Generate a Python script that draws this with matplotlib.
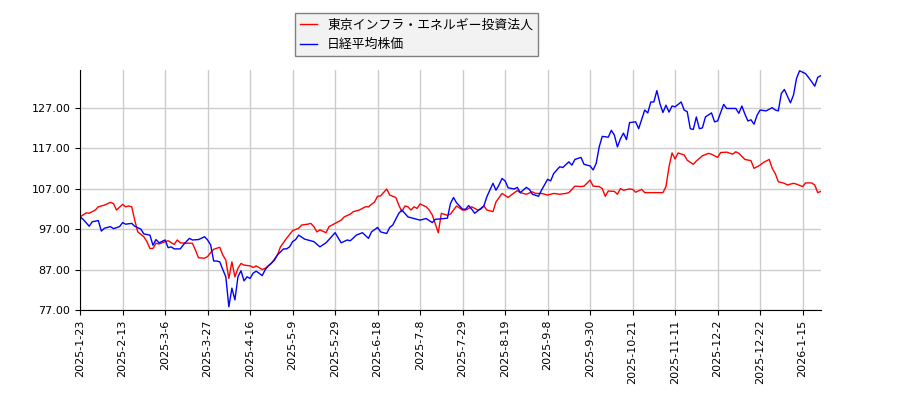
import matplotlib
matplotlib.use("Agg")
import matplotlib.pyplot as plt
from matplotlib.ticker import FormatStrFormatter

plt.rcParams['font.family'] = ['Noto Sans CJK JP', 'DejaVu Sans']

# trading-day index -> value (first day = 100)
red_day = [0, 2, 3, 5, 6, 8, 10, 11, 12, 14, 15, 16, 17, 18, 19, 21, 22, 23, 24, 25,
           26, 28, 29, 31, 32, 33, 35, 37, 38, 39, 41, 42, 43, 44, 46, 47, 48, 49, 50, 51,
           52, 53, 54, 56, 57, 58, 60, 61, 63, 65, 66, 68, 70, 71, 72, 73, 75, 76, 77, 78,
           79, 81, 82, 84, 86, 87, 89, 90, 92, 94, 95, 97, 98, 99, 101, 102, 104, 105, 106, 107,
           108, 109, 110, 111, 112, 114, 115, 116, 118, 119, 121, 122, 124, 126, 127, 129, 131, 132, 133, 134,
           136, 137, 139, 141, 142, 144, 145, 147, 149, 150, 152, 154, 156, 158, 160, 161, 163, 165, 166, 168,
           169, 171, 172, 173, 174, 176, 177, 178, 179, 181, 182, 183, 185, 186, 188, 189, 191, 192, 193, 194,
           195, 196, 197, 199, 200, 202, 203, 205, 207, 208, 210, 211, 213, 215, 216, 217, 219, 221, 222, 224,
           225, 227, 228, 229, 230, 232, 233, 235, 236, 238, 239, 241, 242, 243, 244]
red_val = [100.0, 101.0, 100.9, 101.7, 102.5, 102.9, 103.6, 103.3, 101.7, 103.1, 102.5, 102.7, 102.5, 99.2, 96.3, 95.1, 93.9, 92.2, 92.2, 93.5,
           93.3, 93.9, 94.1, 93.2, 94.3, 93.6, 93.5, 93.5, 91.8, 89.9, 89.8, 90.2, 91.2, 92.0, 92.5, 90.6, 89.3, 84.8, 88.9, 85.2,
           87.3, 88.5, 88.1, 87.9, 87.5, 87.9, 87.0, 87.3, 88.5, 90.6, 92.6, 94.7, 96.6, 96.9, 97.2, 98.0, 98.2, 98.4, 97.6, 96.3,
           96.8, 96.1, 97.6, 98.4, 99.2, 100.0, 100.7, 101.3, 101.7, 102.5, 102.5, 103.7, 105.1, 105.2, 106.9, 105.4, 104.8, 102.9, 101.3, 102.7,
           102.5, 101.7, 102.5, 102.1, 103.2, 102.5, 101.7, 100.5, 96.1, 100.9, 100.4, 100.7, 102.7, 101.7, 101.7, 102.5, 101.7, 101.9, 102.7, 101.7,
           101.3, 103.7, 105.8, 104.8, 105.4, 106.5, 106.0, 105.6, 106.2, 105.8, 105.8, 105.4, 105.8, 105.6, 105.8, 106.0, 107.6, 107.5, 107.6, 109.1,
           107.6, 107.5, 107.0, 105.1, 106.4, 106.3, 105.6, 107.0, 106.6, 106.9, 106.8, 106.1, 106.8, 106.0, 106.0, 106.0, 106.0, 106.0, 107.5, 112.4,
           115.8, 114.3, 115.8, 115.3, 114.0, 113.0, 113.8, 115.1, 115.7, 115.5, 114.7, 115.9, 116.0, 115.5, 116.1, 115.7, 114.2, 113.9, 112.0, 112.8,
           113.4, 114.2, 112.0, 110.7, 108.7, 108.3, 107.9, 108.3, 108.1, 107.5, 108.4, 108.4, 107.9, 106.0, 106.3]

blue_day = [0, 1, 3, 4, 6, 7, 8, 10, 11, 13, 14, 15, 17, 18, 20, 21, 23, 24, 25, 26,
            28, 29, 30, 31, 33, 34, 36, 37, 39, 41, 42, 43, 44, 45, 46, 47, 48, 49, 50, 51,
            52, 53, 54, 55, 56, 57, 58, 60, 61, 62, 64, 65, 67, 68, 69, 70, 71, 72, 74, 76,
            77, 79, 81, 82, 84, 86, 88, 89, 91, 93, 95, 96, 98, 99, 101, 102, 103, 105, 106, 108,
            110, 112, 114, 115, 116, 117, 120, 121, 122, 123, 124, 126, 127, 128, 129, 130, 132, 133, 134, 136,
            137, 138, 139, 140, 141, 143, 144, 145, 147, 148, 149, 151, 152, 154, 155, 156, 158, 159, 161, 162,
            163, 165, 166, 168, 169, 170, 171, 172, 174, 175, 176, 177, 178, 179, 180, 181, 183, 184, 186, 187,
            188, 189, 190, 191, 192, 193, 194, 195, 196, 198, 199, 200, 201, 202, 203, 204, 205, 206, 208, 209,
            210, 212, 213, 215, 216, 217, 218, 219, 220, 221, 222, 223, 224, 226, 228, 229, 230, 231, 232, 234,
            235, 236, 237, 239, 241, 242, 243, 244]
blue_val = [100.0, 99.4, 97.7, 98.8, 99.1, 96.5, 97.2, 97.6, 97.1, 97.6, 98.6, 98.2, 98.4, 97.7, 97.0, 95.8, 95.5, 93.0, 94.4, 93.6,
            94.3, 92.4, 92.6, 92.1, 92.1, 93.1, 94.7, 94.3, 94.4, 95.1, 94.3, 93.1, 89.1, 89.1, 88.9, 87.0, 85.2, 77.8, 82.4, 79.5,
            85.2, 86.7, 84.2, 85.2, 84.8, 86.1, 86.6, 85.5, 87.0, 87.9, 89.3, 90.6, 92.1, 92.1, 92.6, 93.9, 94.4, 95.5, 94.5, 94.1,
            93.9, 92.6, 93.6, 94.4, 96.1, 93.6, 94.3, 94.1, 95.5, 96.1, 94.7, 96.3, 97.4, 96.3, 95.9, 97.4, 98.0, 100.9, 101.7, 100.0,
            99.6, 99.2, 99.6, 99.1, 98.6, 99.4, 99.6, 99.7, 103.3, 104.8, 103.5, 101.9, 101.9, 102.8, 101.9, 100.9, 102.1, 102.7, 105.0, 108.3,
            106.6, 107.9, 109.5, 108.9, 107.2, 106.9, 107.3, 106.0, 107.3, 106.8, 105.6, 105.1, 106.6, 109.3, 108.9, 110.7, 112.4, 112.2, 113.6, 112.8,
            114.2, 114.7, 113.0, 112.6, 111.6, 113.2, 117.3, 119.9, 119.7, 121.4, 120.2, 117.3, 119.3, 120.7, 119.1, 123.3, 123.5, 121.8, 126.4, 125.7,
            128.4, 128.4, 131.2, 128.0, 125.8, 127.6, 125.9, 127.4, 127.2, 128.4, 126.4, 126.0, 121.8, 121.6, 124.7, 121.8, 122.0, 124.7, 125.7, 123.5,
            123.7, 127.8, 126.8, 126.8, 126.8, 125.6, 127.4, 125.4, 123.7, 124.0, 122.9, 125.1, 126.4, 126.2, 127.0, 126.4, 126.2, 130.5, 131.5, 128.2,
            130.1, 134.2, 136.1, 135.4, 133.4, 132.3, 134.5, 134.9]

tick_labels = ["2025-1-23", "2025-2-13", "2025-3-6", "2025-3-27", "2025-4-16", "2025-5-9",
               "2025-5-29", "2025-6-18", "2025-7-8", "2025-7-29", "2025-8-19", "2025-9-8",
               "2025-9-30", "2025-10-21", "2025-11-11", "2025-12-2", "2025-12-22", "2026-1-15"]
TICK_STEP = 14

fig = plt.figure(figsize=(9, 4), dpi=100)
ax = fig.add_axes([0.089, 0.225, 0.823, 0.6])

ax.plot(red_day, red_val, color="red", lw=1, label="東京インフラ・エネルギー投資法人")
ax.plot(blue_day, blue_val, color="blue", lw=1, label="日経平均株価")

ax.set_xlim(0, 244)
ax.set_ylim(77, 136.3)
ax.set_yticks([77, 87, 97, 107, 117, 127])
ax.yaxis.set_major_formatter(FormatStrFormatter("%.2f"))
ax.set_xticks([i * TICK_STEP for i in range(len(tick_labels))])
ax.set_xticklabels(tick_labels, rotation=90, family="DejaVu Sans")
for lab in ax.get_yticklabels():
    lab.set_family("DejaVu Sans")
ax.tick_params(labelsize=8)
ax.grid(color="#cccccc", lw=1)
ax.set_axisbelow(True)
ax.spines["top"].set_visible(False)
ax.spines["right"].set_visible(False)

fig.legend(loc="upper center", bbox_to_anchor=(0.4628, 0.967), fontsize=9.25,
           facecolor="#f2f2f2", edgecolor="#808080", framealpha=1, fancybox=False,
           handlelength=1.3, handletextpad=0.8, borderpad=0.42, labelspacing=0.5,
           borderaxespad=0)

fig.savefig("out.png", dpi=100)
